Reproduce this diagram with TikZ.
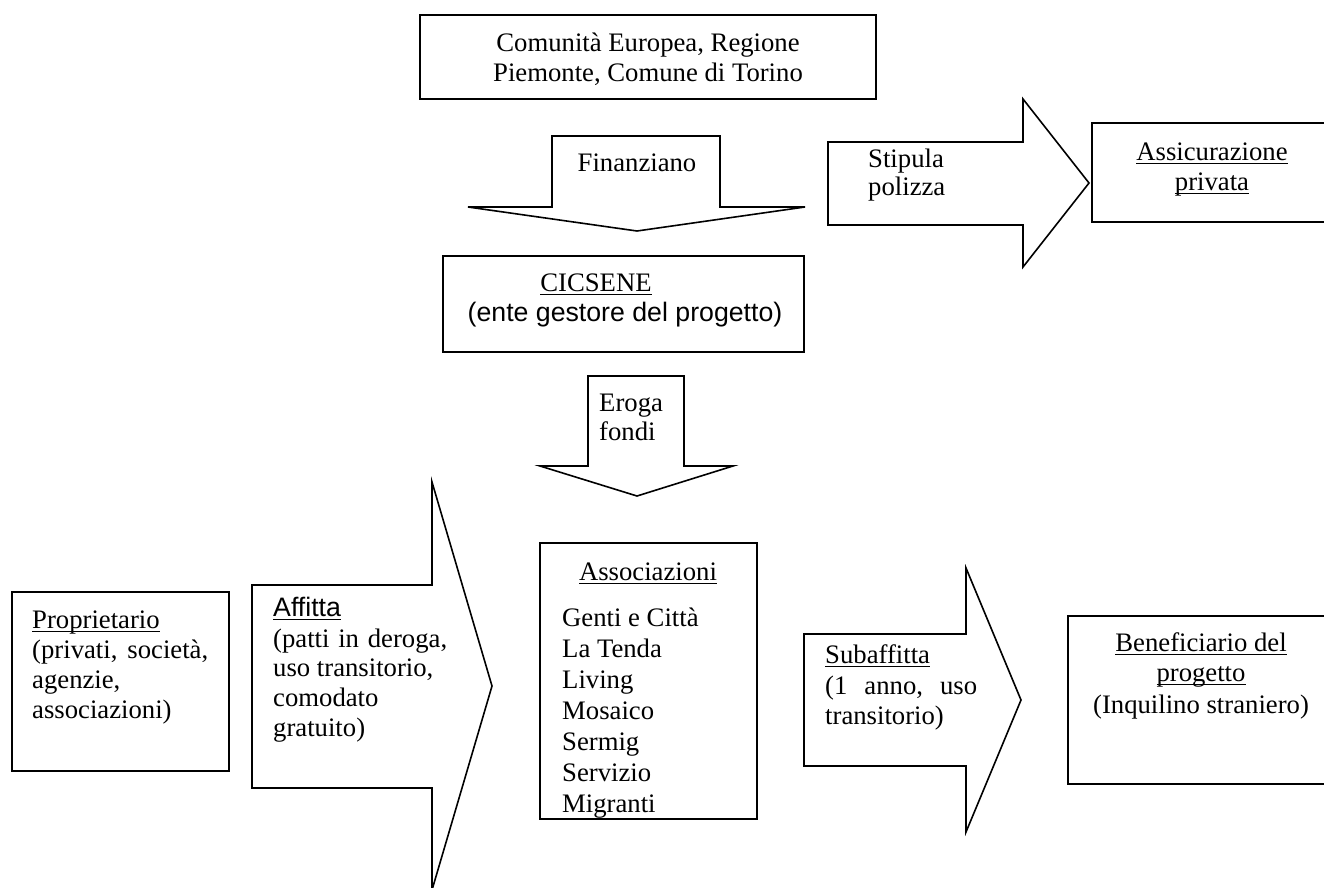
\documentclass[tikz,border=0pt]{standalone}
\usepackage{fontspec}
\setmainfont{Liberation Serif}
\setsansfont{Liberation Sans}
\newsavebox\ulbox
\newcommand\ulx[1]{\sbox\ulbox{#1}\rlap{\rule[-4.4pt]{\wd\ulbox}{1.4pt}}\usebox\ulbox}
\tikzset{
  outline/.style={draw=black, line width=1.6pt, fill=white, line join=miter},
  txt/.style={inner sep=0pt, font=\fontsize{26.7pt}{30pt}\selectfont},
  lft/.style={txt, anchor=base west},
  ctr/.style={txt, anchor=base}
}
\begin{document}
\begin{tikzpicture}[x=1pt,y=-1pt]
\useasboundingbox (0,0) rectangle (1324,887);
\clip (0,0) rectangle (1324,887);
\fill[white] (0,0) rectangle (1324,887);

% ---- boxes ----
\draw[outline] (420,15) rectangle (876,99);
\draw[outline] (443,256) rectangle (804,352);
\draw[outline] (1092,123) rectangle (1340,222);
\draw[outline] (12,592) rectangle (229,771);
\draw[outline] (1068,616) rectangle (1340,784);

% ---- block arrows ----
\draw[outline] (552,136) -- (720,136) -- (720,207) -- (805,207) -- (637,231)
  -- (468,207) -- (552,207) -- cycle;
\draw[outline] (828,142) -- (1023,142) -- (1023,99) -- (1089,183) -- (1023,267)
  -- (1023,225) -- (828,225) -- cycle;
\draw[outline] (588,376) -- (684,376) -- (684,466) -- (733,466) -- (637,496)
  -- (540,466) -- (588,466) -- cycle;
\draw[outline] (252,585) -- (432,585) -- (432,482) -- (492,686) -- (432,890)
  -- (432,788) -- (252,788) -- cycle;
\draw[outline] (804,634) -- (966,634) -- (966,568) -- (1021,700) -- (966,832)
  -- (966,766) -- (804,766) -- cycle;

% ---- texts ----
\node[ctr] (ue1) at (648,51) {Comunità Europea, Regione};
\node[ctr] (ue2) at (648,81) {Piemonte, Comune di Torino};

\node[ctr] (fin) at (637,171) {Finanziano};

\node[lft] (sp1) at (868,167) {Stipula};
\node[lft] (sp2) at (868,195) {polizza};

\node[ctr] (as1) at (1212,160) {\ulx{Assicurazione}};
\node[ctr] (as2) at (1212,190) {\ulx{privata}};

\node[ctr] (cic1) at (596,291) {\ulx{CICSENE}};
\node[ctr] (cic2) at (625,321) {\sffamily (ente gestore del progetto)};

\node[lft] (er1) at (599,411) {Eroga};
\node[lft] (er2) at (599,440) {fondi};

% Associazioni box (contents clipped by the box)
\begin{scope}
\clip (540,543) rectangle (757,819);
\node[ctr] (ass0) at (648,580) {\ulx{Associazioni}};
\node[lft] (ass1) at (562,626) {Genti e Città};
\node[lft] (ass2) at (562,657) {La Tenda};
\node[lft] (ass3) at (562,688) {Living};
\node[lft] (ass4) at (562,719) {Mosaico};
\node[lft] (ass5) at (562,750) {Sermig};
\node[lft] (ass6) at (562,781) {Servizio};
\node[lft] (ass7) at (562,812) {Migranti};
\end{scope}
\draw[outline, fill=none] (540,543) rectangle (757,819);

\node[lft] (pr1) at (32,628) {\ulx{Proprietario}};
\node[lft] (pr2) at (32,658) {\hbox to 176pt{(privati,\hfill società,}};
\node[lft] (pr3) at (32,688) {agenzie,};
\node[lft] (pr4) at (32,718) {associazioni)};

\node[lft] (af1) at (273,616) {\sffamily\ulx{Affitta}};
\node[lft] (af2) at (273,647) {\hbox to 174pt{(patti\hfill in\hfill deroga,}};
\node[lft] (af3) at (273,676) {uso transitorio,};
\node[lft] (af4) at (273,706) {comodato};
\node[lft] (af5) at (273,736) {gratuito)};

\node[lft] (sub1) at (825,663) {\ulx{Subaffitta}};
\node[lft] (sub2) at (825,694) {\hbox to 152pt{(1\hfill anno,\hfill uso}};
\node[lft] (sub3) at (825,724) {transitorio)};

\node[ctr] (ben1) at (1201,651) {\ulx{Beneficiario del}};
\node[ctr] (ben2) at (1201,681) {\ulx{progetto}};
\node[ctr] (ben3) at (1201,713) {(Inquilino straniero)};
\end{tikzpicture}
\end{document}
